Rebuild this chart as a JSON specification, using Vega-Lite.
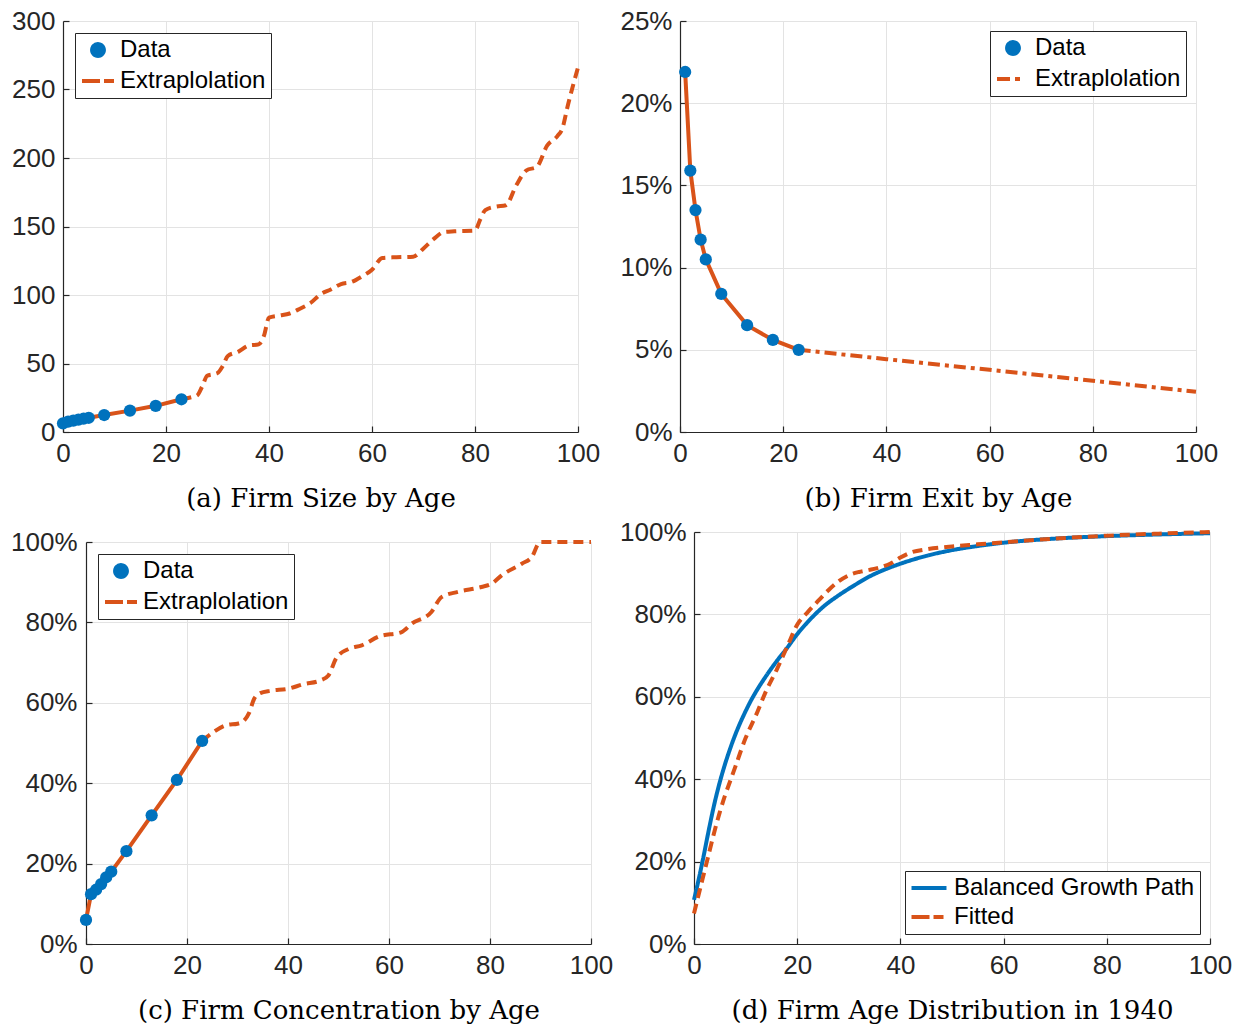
{
  "$schema": "https://vega.github.io/schema/vega-lite/v6.json",
  "padding": {"left": 10, "top": 8, "right": 2, "bottom": 2},
  "background": "white",
  "config": {
    "view": {"stroke": null},
    "axis": {
      "labelFont": "Liberation Sans", "labelFontSize": 26, "labelColor": "#262626",
      "domainColor": "#262626", "domainWidth": 1.2, "tickColor": "#262626", "tickSize": -6, "tickWidth": 1.2,
      "labelPadding": 14, "labelFlush": false, "gridColor": "#e3e3e3", "gridWidth": 1,
      "titleFont": "DejaVu Serif", "titleFontSize": 26, "titleFontWeight": "normal", "titleColor": "#000000", "titlePadding": 19
    },
    "legend": {
      "strokeColor": "#262626", "fillColor": "white", "padding": 5,
      "labelFont": "Liberation Sans", "labelFontSize": 24, "labelColor": "#000000", "labelLimit": 400,
      "symbolSize": 256, "symbolStrokeWidth": 4, "labelOffset": 16, "rowPadding": 5
    }
  },
  "datasets": {
    "a_data": [
      {"age": 0, "value": 6.3, "series": "Data"}, {"age": 1, "value": 7.6, "series": "Data"},
      {"age": 2, "value": 8.3, "series": "Data"}, {"age": 3, "value": 9.0, "series": "Data"},
      {"age": 4, "value": 9.7, "series": "Data"}, {"age": 5, "value": 10.4, "series": "Data"},
      {"age": 8, "value": 12.4, "series": "Data"}, {"age": 13, "value": 15.6, "series": "Data"},
      {"age": 18, "value": 19.1, "series": "Data"}, {"age": 23, "value": 23.9, "series": "Data"}
    ],
    "a_ext": [
      {"age": 23, "value": 23.9, "series": "Extraplolation"}, {"age": 25, "value": 25.5, "series": "Extraplolation"},
      {"age": 26, "value": 26.5, "series": "Extraplolation"}, {"age": 27, "value": 33, "series": "Extraplolation"},
      {"age": 28, "value": 41, "series": "Extraplolation"}, {"age": 29, "value": 42, "series": "Extraplolation"},
      {"age": 30, "value": 43, "series": "Extraplolation"}, {"age": 31, "value": 48, "series": "Extraplolation"},
      {"age": 32, "value": 55.5, "series": "Extraplolation"}, {"age": 34, "value": 58.5, "series": "Extraplolation"},
      {"age": 36, "value": 63, "series": "Extraplolation"}, {"age": 38, "value": 64, "series": "Extraplolation"},
      {"age": 39, "value": 70, "series": "Extraplolation"}, {"age": 40, "value": 83.5, "series": "Extraplolation"},
      {"age": 42, "value": 85, "series": "Extraplolation"}, {"age": 44, "value": 86.5, "series": "Extraplolation"},
      {"age": 46, "value": 90, "series": "Extraplolation"}, {"age": 48, "value": 94, "series": "Extraplolation"},
      {"age": 50, "value": 100.5, "series": "Extraplolation"}, {"age": 52, "value": 104, "series": "Extraplolation"},
      {"age": 54, "value": 108, "series": "Extraplolation"}, {"age": 56, "value": 109.5, "series": "Extraplolation"},
      {"age": 58, "value": 113.5, "series": "Extraplolation"}, {"age": 60, "value": 118.5, "series": "Extraplolation"},
      {"age": 62, "value": 127, "series": "Extraplolation"}, {"age": 64, "value": 127.5, "series": "Extraplolation"},
      {"age": 68, "value": 128, "series": "Extraplolation"}, {"age": 70, "value": 134, "series": "Extraplolation"},
      {"age": 72, "value": 141, "series": "Extraplolation"}, {"age": 74, "value": 146, "series": "Extraplolation"},
      {"age": 76, "value": 146.5, "series": "Extraplolation"}, {"age": 80, "value": 147, "series": "Extraplolation"},
      {"age": 81, "value": 155, "series": "Extraplolation"}, {"age": 82, "value": 162, "series": "Extraplolation"},
      {"age": 84, "value": 164.5, "series": "Extraplolation"}, {"age": 86, "value": 165.5, "series": "Extraplolation"},
      {"age": 88, "value": 180, "series": "Extraplolation"}, {"age": 90, "value": 191, "series": "Extraplolation"},
      {"age": 92, "value": 193.5, "series": "Extraplolation"}, {"age": 94, "value": 209, "series": "Extraplolation"},
      {"age": 96, "value": 216, "series": "Extraplolation"}, {"age": 97, "value": 222, "series": "Extraplolation"},
      {"age": 98, "value": 238, "series": "Extraplolation"}, {"age": 100, "value": 266, "series": "Extraplolation"}
    ],
    "b_data": [
      {"age": 1, "value": 21.9, "series": "Data"}, {"age": 2, "value": 15.9, "series": "Data"},
      {"age": 3, "value": 13.5, "series": "Data"}, {"age": 4, "value": 11.7, "series": "Data"},
      {"age": 5, "value": 10.5, "series": "Data"}, {"age": 8, "value": 8.4, "series": "Data"},
      {"age": 13, "value": 6.5, "series": "Data"}, {"age": 18, "value": 5.6, "series": "Data"},
      {"age": 23, "value": 5.0, "series": "Data"}
    ],
    "b_ext": [
      {"age": 23, "value": 5.0, "series": "Extraplolation"}, {"age": 40, "value": 4.43, "series": "Extraplolation"},
      {"age": 60, "value": 3.78, "series": "Extraplolation"}, {"age": 80, "value": 3.12, "series": "Extraplolation"},
      {"age": 100, "value": 2.45, "series": "Extraplolation"}
    ],
    "c_data": [
      {"age": 0, "value": 6.0, "series": "Data"}, {"age": 1, "value": 12.4, "series": "Data"},
      {"age": 2, "value": 13.5, "series": "Data"}, {"age": 3, "value": 14.9, "series": "Data"},
      {"age": 4, "value": 16.6, "series": "Data"}, {"age": 5, "value": 18.0, "series": "Data"},
      {"age": 8, "value": 23.1, "series": "Data"}, {"age": 13, "value": 32.0, "series": "Data"},
      {"age": 18, "value": 40.8, "series": "Data"}, {"age": 23, "value": 50.5, "series": "Data"}
    ],
    "c_ext": [
      {"age": 23, "value": 50.5, "series": "Extraplolation"}, {"age": 25, "value": 52.5, "series": "Extraplolation"},
      {"age": 28, "value": 54.5, "series": "Extraplolation"}, {"age": 30, "value": 54.8, "series": "Extraplolation"},
      {"age": 31.3, "value": 55.6, "series": "Extraplolation"}, {"age": 32.3, "value": 57.5, "series": "Extraplolation"},
      {"age": 33.3, "value": 61, "series": "Extraplolation"}, {"age": 34.5, "value": 62.4, "series": "Extraplolation"},
      {"age": 36.5, "value": 63, "series": "Extraplolation"}, {"age": 40, "value": 63.5, "series": "Extraplolation"},
      {"age": 43, "value": 64.6, "series": "Extraplolation"}, {"age": 46.5, "value": 65.6, "series": "Extraplolation"},
      {"age": 48, "value": 66.8, "series": "Extraplolation"}, {"age": 49.6, "value": 71.2, "series": "Extraplolation"},
      {"age": 52, "value": 73.4, "series": "Extraplolation"}, {"age": 54.6, "value": 74.3, "series": "Extraplolation"},
      {"age": 58, "value": 76.5, "series": "Extraplolation"}, {"age": 62.5, "value": 77.6, "series": "Extraplolation"},
      {"age": 64.5, "value": 79.7, "series": "Extraplolation"}, {"age": 68.4, "value": 82.6, "series": "Extraplolation"},
      {"age": 70.4, "value": 86.3, "series": "Extraplolation"}, {"age": 73.7, "value": 87.6, "series": "Extraplolation"},
      {"age": 78.3, "value": 88.8, "series": "Extraplolation"}, {"age": 80.3, "value": 89.6, "series": "Extraplolation"},
      {"age": 82.3, "value": 91.7, "series": "Extraplolation"}, {"age": 86.3, "value": 94.6, "series": "Extraplolation"},
      {"age": 88.3, "value": 96.3, "series": "Extraplolation"}, {"age": 89.9, "value": 100, "series": "Extraplolation"},
      {"age": 100, "value": 100, "series": "Extraplolation"}
    ],
    "d_lines": [
      {"age": 0, "value": 10.7, "series": "Balanced Growth Path"}, {"age": 1, "value": 16.2, "series": "Balanced Growth Path"},
      {"age": 2, "value": 22.2, "series": "Balanced Growth Path"}, {"age": 3, "value": 28.5, "series": "Balanced Growth Path"},
      {"age": 4, "value": 34.3, "series": "Balanced Growth Path"}, {"age": 5, "value": 39.3, "series": "Balanced Growth Path"},
      {"age": 6, "value": 43.6, "series": "Balanced Growth Path"}, {"age": 7, "value": 47.4, "series": "Balanced Growth Path"},
      {"age": 8, "value": 50.8, "series": "Balanced Growth Path"}, {"age": 9, "value": 53.8, "series": "Balanced Growth Path"},
      {"age": 10, "value": 56.5, "series": "Balanced Growth Path"}, {"age": 11, "value": 59, "series": "Balanced Growth Path"},
      {"age": 12, "value": 61.2, "series": "Balanced Growth Path"}, {"age": 14, "value": 65.1, "series": "Balanced Growth Path"},
      {"age": 16, "value": 68.6, "series": "Balanced Growth Path"}, {"age": 18, "value": 71.8, "series": "Balanced Growth Path"},
      {"age": 20, "value": 75.2, "series": "Balanced Growth Path"}, {"age": 22, "value": 78.1, "series": "Balanced Growth Path"},
      {"age": 25, "value": 81.8, "series": "Balanced Growth Path"}, {"age": 28, "value": 84.6, "series": "Balanced Growth Path"},
      {"age": 31, "value": 87, "series": "Balanced Growth Path"}, {"age": 34, "value": 89.2, "series": "Balanced Growth Path"},
      {"age": 37, "value": 90.9, "series": "Balanced Growth Path"}, {"age": 40, "value": 92.3, "series": "Balanced Growth Path"},
      {"age": 45, "value": 94.2, "series": "Balanced Growth Path"}, {"age": 50, "value": 95.6, "series": "Balanced Growth Path"},
      {"age": 55, "value": 96.6, "series": "Balanced Growth Path"}, {"age": 60, "value": 97.4, "series": "Balanced Growth Path"},
      {"age": 70, "value": 98.4, "series": "Balanced Growth Path"}, {"age": 80, "value": 99, "series": "Balanced Growth Path"},
      {"age": 90, "value": 99.4, "series": "Balanced Growth Path"}, {"age": 100, "value": 99.7, "series": "Balanced Growth Path"},
      {"age": 0, "value": 7.4, "series": "Fitted"}, {"age": 1, "value": 12.5, "series": "Fitted"},
      {"age": 2, "value": 17.5, "series": "Fitted"}, {"age": 3, "value": 22.5, "series": "Fitted"},
      {"age": 4, "value": 27.5, "series": "Fitted"}, {"age": 5, "value": 32, "series": "Fitted"},
      {"age": 6, "value": 36, "series": "Fitted"}, {"age": 7, "value": 39.5, "series": "Fitted"},
      {"age": 8, "value": 43, "series": "Fitted"}, {"age": 10, "value": 50, "series": "Fitted"},
      {"age": 12, "value": 55.5, "series": "Fitted"}, {"age": 14, "value": 61.5, "series": "Fitted"},
      {"age": 16, "value": 66.5, "series": "Fitted"}, {"age": 18, "value": 72, "series": "Fitted"},
      {"age": 20, "value": 77.5, "series": "Fitted"}, {"age": 22, "value": 80.5, "series": "Fitted"},
      {"age": 24, "value": 83.2, "series": "Fitted"}, {"age": 26, "value": 85.8, "series": "Fitted"},
      {"age": 28, "value": 88, "series": "Fitted"}, {"age": 30, "value": 89.5, "series": "Fitted"},
      {"age": 32, "value": 90.3, "series": "Fitted"}, {"age": 34, "value": 90.8, "series": "Fitted"},
      {"age": 36, "value": 91.4, "series": "Fitted"}, {"age": 38, "value": 92.3, "series": "Fitted"},
      {"age": 40, "value": 93.8, "series": "Fitted"}, {"age": 42, "value": 95, "series": "Fitted"},
      {"age": 45, "value": 95.8, "series": "Fitted"}, {"age": 50, "value": 96.5, "series": "Fitted"},
      {"age": 55, "value": 97, "series": "Fitted"}, {"age": 60, "value": 97.5, "series": "Fitted"},
      {"age": 70, "value": 98.4, "series": "Fitted"}, {"age": 80, "value": 99.1, "series": "Fitted"},
      {"age": 90, "value": 99.6, "series": "Fitted"}, {"age": 100, "value": 100, "series": "Fitted"}
    ]
  },
  "columns": 1,
  "align": "none",
  "spacing": 8,
  "concat": [
    {
      "columns": 2,
      "align": "none",
      "spacing": 19,
      "resolve": {"scale": {"color": "independent"}, "legend": {"color": "independent"}},
      "concat": [
        {
          "width": 515, "height": 411,
          "encoding": {
            "x": {"field": "age", "type": "quantitative", "scale": {"domain": [0, 100], "nice": false},
                  "axis": {"values": [0, 20, 40, 60, 80, 100], "title": "(a) Firm Size by Age"}},
            "y": {"field": "value", "type": "quantitative", "scale": {"domain": [0, 300], "nice": false},
                  "axis": {"values": [0, 50, 100, 150, 200, 250, 300], "title": null}}
          },
          "layer": [
            {"data": {"name": "a_data"}, "mark": {"type": "line", "color": "#D95319", "strokeWidth": 4}},
            {"data": {"name": "a_ext"}, "mark": {"type": "line", "strokeWidth": 4, "strokeDash": [10, 6], "interpolate": "monotone"},
             "encoding": {"color": {"field": "series", "type": "nominal", "scale": {"domain": ["Data", "Extraplolation"], "range": ["#0072BD", "#D95319"]},
               "legend": {"title": null, "orient": "top-left", "offset": 12,
                 "encode": {"symbols": {"update": {
                   "x": {"value": 18},
                   "shape": {"signal": "datum.value === 'Data' ? 'circle' : 'M-2,0H2'"},
                   "size": {"signal": "datum.value === 'Data' ? 140 : 256"},
                   "fill": {"signal": "datum.value === 'Data' ? '#0072BD' : 'transparent'"},
                   "stroke": {"signal": "datum.value === 'Data' ? 'transparent' : '#D95319'"},
                   "strokeDash": {"signal": "datum.value === 'Data' ? [1, 0] : [18, 4, 10]"},
                   "strokeWidth": {"value": 4}, "opacity": {"value": 1}}}}}}}},
            {"data": {"name": "a_data"}, "mark": {"type": "point", "filled": true, "size": 150, "opacity": 1},
             "encoding": {"color": {"field": "series", "type": "nominal", "scale": {"domain": ["Data", "Extraplolation"], "range": ["#0072BD", "#D95319"]}}}}
          ]
        },
        {
          "width": 516, "height": 411,
          "encoding": {
            "x": {"field": "age", "type": "quantitative", "scale": {"domain": [0, 100], "nice": false},
                  "axis": {"values": [0, 20, 40, 60, 80, 100], "title": "(b) Firm Exit by Age"}},
            "y": {"field": "value", "type": "quantitative", "scale": {"domain": [0, 25], "nice": false},
                  "axis": {"values": [0, 5, 10, 15, 20, 25], "labelExpr": "datum.value + '%'", "title": null}}
          },
          "layer": [
            {"data": {"name": "b_data"}, "mark": {"type": "line", "color": "#D95319", "strokeWidth": 4}},
            {"data": {"name": "b_ext"}, "mark": {"type": "line", "strokeWidth": 4, "strokeDash": [12, 5, 4, 5]},
             "encoding": {"color": {"field": "series", "type": "nominal", "scale": {"domain": ["Data", "Extraplolation"], "range": ["#0072BD", "#D95319"]},
               "legend": {"title": null, "orient": "top-right", "offset": 10,
                 "encode": {"symbols": {"update": {
                   "x": {"value": 18},
                   "shape": {"signal": "datum.value === 'Data' ? 'circle' : 'M-2,0H2'"},
                   "size": {"signal": "datum.value === 'Data' ? 140 : 256"},
                   "fill": {"signal": "datum.value === 'Data' ? '#0072BD' : 'transparent'"},
                   "stroke": {"signal": "datum.value === 'Data' ? 'transparent' : '#D95319'"},
                   "strokeDash": {"signal": "datum.value === 'Data' ? [1, 0] : [13, 5, 5, 9]"},
                   "strokeWidth": {"value": 4}, "opacity": {"value": 1}}}}}}}},
            {"data": {"name": "b_data"}, "mark": {"type": "point", "filled": true, "size": 150, "opacity": 1},
             "encoding": {"color": {"field": "series", "type": "nominal", "scale": {"domain": ["Data", "Extraplolation"], "range": ["#0072BD", "#D95319"]}}}}
          ]
        }
      ]
    },
    {
      "columns": 2,
      "align": "none",
      "spacing": 6,
      "resolve": {"scale": {"color": "independent"}, "legend": {"color": "independent"}},
      "concat": [
        {
          "columns": 1,
          "align": "none",
          "spacing": -4,
          "resolve": {"scale": {"color": "independent"}, "legend": {"color": "independent"}},
          "concat": [
            {"width": 1, "height": 1, "data": {"values": []}, "mark": "point", "view": {"fill": "white", "stroke": null}},
            {
              "columns": 2,
              "align": "none",
              "spacing": -54,
              "resolve": {"scale": {"color": "independent"}, "legend": {"color": "independent"}},
              "concat": [
                {"width": 1, "height": 1, "data": {"values": []}, "mark": "point", "view": {"fill": "white", "stroke": null}},
                {
                  "width": 505, "height": 402,
                  "encoding": {
                    "x": {"field": "age", "type": "quantitative", "scale": {"domain": [0, 100], "nice": false},
                          "axis": {"values": [0, 20, 40, 60, 80, 100], "title": "(c) Firm Concentration by Age"}},
                    "y": {"field": "value", "type": "quantitative", "scale": {"domain": [0, 100], "nice": false},
                          "axis": {"values": [0, 20, 40, 60, 80, 100], "labelExpr": "datum.value + '%'", "title": null, "labelPadding": 15}}
                  },
                  "layer": [
                    {"data": {"name": "c_data"}, "mark": {"type": "line", "color": "#D95319", "strokeWidth": 4}},
                    {"data": {"name": "c_ext"}, "mark": {"type": "line", "strokeWidth": 4, "strokeDash": [10, 6], "interpolate": "monotone"},
                     "encoding": {"color": {"field": "series", "type": "nominal", "scale": {"domain": ["Data", "Extraplolation"], "range": ["#0072BD", "#D95319"]},
                       "legend": {"title": null, "orient": "top-left", "offset": 12,
                         "encode": {"symbols": {"update": {
                           "x": {"value": 18},
                           "shape": {"signal": "datum.value === 'Data' ? 'circle' : 'M-2,0H2'"},
                           "size": {"signal": "datum.value === 'Data' ? 140 : 256"},
                           "fill": {"signal": "datum.value === 'Data' ? '#0072BD' : 'transparent'"},
                           "stroke": {"signal": "datum.value === 'Data' ? 'transparent' : '#D95319'"},
                           "strokeDash": {"signal": "datum.value === 'Data' ? [1, 0] : [18, 4, 10]"},
                           "strokeWidth": {"value": 4}, "opacity": {"value": 1}}}}}}}},
                    {"data": {"name": "c_data"}, "mark": {"type": "point", "filled": true, "size": 150, "opacity": 1},
                     "encoding": {"color": {"field": "series", "type": "nominal", "scale": {"domain": ["Data", "Extraplolation"], "range": ["#0072BD", "#D95319"]}}}}
                  ]
                }
              ]
            }
          ]
        },
        {
          "width": 516, "height": 412,
          "data": {"name": "d_lines"},
          "mark": {"type": "line", "strokeWidth": 4, "interpolate": "monotone"},
          "encoding": {
            "x": {"field": "age", "type": "quantitative", "scale": {"domain": [0, 100], "nice": false},
                  "axis": {"values": [0, 20, 40, 60, 80, 100], "title": "(d) Firm Age Distribution in 1940"}},
            "y": {"field": "value", "type": "quantitative", "scale": {"domain": [0, 100], "nice": false},
                  "axis": {"values": [0, 20, 40, 60, 80, 100], "labelExpr": "datum.value + '%'", "title": null}},
            "color": {"field": "series", "type": "nominal", "scale": {"domain": ["Balanced Growth Path", "Fitted"], "range": ["#0072BD", "#D95319"]},
              "legend": {"title": null, "orient": "bottom-right", "offset": 10, "labelOffset": 20,
                "encode": {"symbols": {"update": {
                  "x": {"value": 19},
                  "shape": {"value": "M-2,0H2"},
                  "size": {"value": 306},
                  "fill": {"value": "transparent"},
                  "strokeDash": {"signal": "datum.value === 'Fitted' ? [18, 4, 10, 4] : [1, 0]"},
                  "strokeWidth": {"value": 4}, "opacity": {"value": 1}}}}}},
            "strokeDash": {"field": "series", "type": "nominal", "scale": {"domain": ["Balanced Growth Path", "Fitted"], "range": [[1, 0], [10, 6]]}, "legend": null}
          }
        }
      ]
    }
  ]
}
